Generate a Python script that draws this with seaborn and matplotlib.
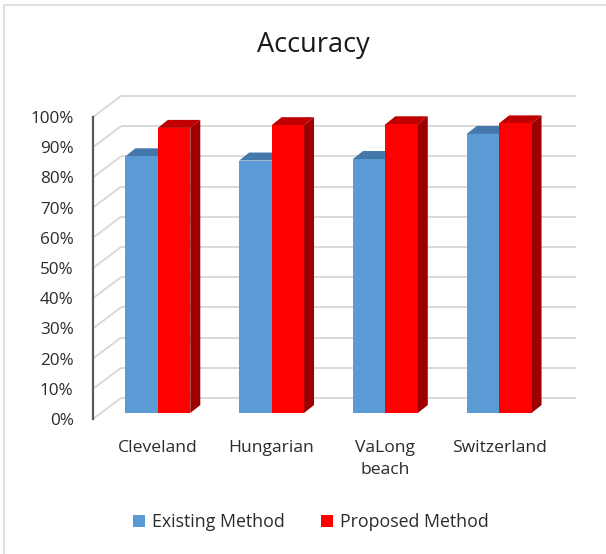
import matplotlib
matplotlib.use("Agg")
import matplotlib.pyplot as plt
import numpy as np
import pandas as pd
import seaborn as sns
from matplotlib.patches import Polygon
from matplotlib.lines import Line2D
from matplotlib.ticker import PercentFormatter
from matplotlib.transforms import ScaledTranslation

# Accuracy (%) per dataset
datasets = ["Cleveland", "Hungarian", "VaLong\nbeach", "Switzerland"]
existing = [85.0, 83.6, 84.1, 92.4]
proposed = [94.4, 95.3, 95.6, 95.9]
methods = ["Existing Method", "Proposed Method"]
yticks = list(range(0, 101, 10))

front_colors = {"Existing Method": "#5B9BD5", "Proposed Method": "#FF0000"}
top_colors = ["#4477AA", "#C00000"]
side_colors = ["#3A6A96", "#9C0000"]

df = pd.DataFrame({
    "Dataset": datasets * 2,
    "Method": [methods[0]] * len(datasets) + [methods[1]] * len(datasets),
    "Accuracy": existing + proposed,
})

sns.set_theme(style="white")
plt.rcParams["font.family"] = ["Open Sans", "DejaVu Sans"]
text_color = "#2b2b2b"

W, H = 606, 554
fig = plt.figure(figsize=(W / 100, H / 100), dpi=100)
ax_left, ax_right, ax_top, ax_bottom = 93, 548, 117, 419
ax = fig.add_axes([ax_left / W, 1 - ax_bottom / H,
                   (ax_right - ax_left) / W, (ax_bottom - ax_top) / H])

# pixel -> data unit conversions (fixed axes geometry)
PXX = (ax_right - ax_left) / len(datasets)
PXY = (ax_bottom - ax_top) / 100.0

sns.barplot(data=df, x="Dataset", y="Accuracy", hue="Method",
            palette=front_colors, width=0.57, saturation=1, ax=ax,
            linewidth=0, errorbar=None)
ax.set_xlim(-0.5, len(datasets) - 0.5)
ax.set_ylim(0, 100)

# perspective wall: back gridlines + left-wall diagonals
wall_dx, wall_dy = 28 / PXX, 21 / PXY
grid_kw = dict(color="#D9D9D9", lw=1.4, clip_on=False, zorder=1,
               solid_capstyle="butt")
for v in yticks:
    ax.plot([-0.5 + wall_dx, len(datasets) - 0.5 + wall_dx],
            [v + wall_dy, v + wall_dy], **grid_kw)
    ax.plot([-0.5, -0.5 + wall_dx], [v, v + wall_dy], **grid_kw)

# 3D bars: move fronts into depth, add top and side faces
bar_dx, bar_dy = 8 / PXX, 6 / PXY
depth_dx, depth_dy = 10 / PXX, 8 / PXY
for i, cont in enumerate(ax.containers):
    z = 3 + i
    for p in cont.patches:
        p.set_x(p.get_x() + bar_dx)
        p.set_y(p.get_y() + bar_dy)
        p.set_zorder(z)
        p.set_clip_on(False)
        x, y0, w, h = p.get_x(), p.get_y(), p.get_width(), p.get_height()
        y1 = y0 + h
        top = Polygon([(x, y1), (x + w, y1), (x + w + depth_dx, y1 + depth_dy),
                       (x + depth_dx, y1 + depth_dy)], closed=True,
                      facecolor=top_colors[i], edgecolor="none",
                      zorder=z - 0.1, clip_on=False)
        side = Polygon([(x + w, y0), (x + w, y1), (x + w + depth_dx, y1 + depth_dy),
                        (x + w + depth_dx, y0 + depth_dy)], closed=True,
                       facecolor=side_colors[i], edgecolor="none",
                       zorder=z - 0.1, clip_on=False)
        ax.add_patch(top)
        ax.add_patch(side)

# axes styling
for s in ["top", "right", "bottom"]:
    ax.spines[s].set_visible(False)
ax.spines["left"].set_color("#595959")
ax.spines["left"].set_linewidth(1.6)
ax.set_yticks(yticks)
ax.yaxis.set_major_formatter(PercentFormatter(decimals=0))
ax.tick_params(axis="y", length=0, pad=14, labelsize=12.3, labelcolor=text_color)
ax.tick_params(axis="x", length=0, pad=15, labelsize=12.6, labelcolor=text_color)
ax.set_xlabel("")
ax.set_ylabel("")
for lbl in ax.get_xticklabels():
    lbl.set_linespacing(1.5)
    lbl.set_verticalalignment("top")
    lbl.set_transform(lbl.get_transform() + ScaledTranslation(8 / 100, 0, fig.dpi_scale_trans))

sns.move_legend(ax, "center", bbox_to_anchor=(311 / W, 1 - 522 / H),
                bbox_transform=fig.transFigure, ncol=2, title=None,
                frameon=False, fontsize=12.8, handlelength=0.7,
                handleheight=0.7, handletextpad=0.4, columnspacing=2.0)
for t in ax.get_legend().get_texts():
    t.set_color(text_color)

fig.text(313 / W, 1 - 45 / H, "Accuracy", ha="center", va="center",
         fontsize=19.5, color="#1a1a1a")

# light chart-area border
fig.add_artist(Line2D([4 / W, 1], [1 - 5 / H, 1 - 5 / H], transform=fig.transFigure,
                      color="#E0E0E0", lw=1.5))
fig.add_artist(Line2D([4 / W, 4 / W], [0, 1 - 5 / H], transform=fig.transFigure,
                      color="#E0E0E0", lw=1.5))

fig.savefig("out.png", dpi=100, facecolor="white")
